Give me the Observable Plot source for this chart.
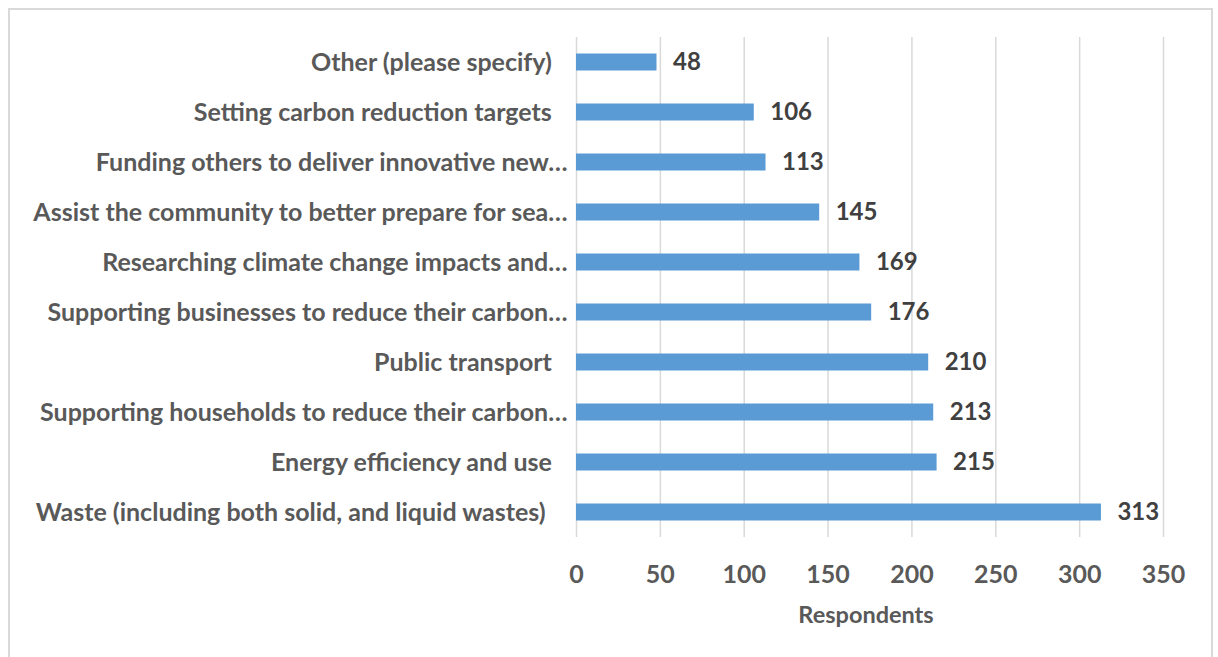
<!DOCTYPE html>
<html><head><meta charset="utf-8">
<script src="https://cdn.jsdelivr.net/npm/d3@7"></script>
<script src="https://cdn.jsdelivr.net/npm/@observablehq/plot@0.6"></script>
<style>
body{margin:0;background:#fff;}
#wrap{position:relative;width:1218px;height:657px;overflow:hidden;}
#box{position:absolute;left:8px;top:8px;width:1205px;height:700px;border:2px solid #d9d9d9;box-sizing:border-box;}
#chart{position:absolute;left:0;top:0;}
svg text{white-space:pre;}
</style></head><body><div id="wrap"><div id="box"></div><div id="chart"></div></div>
<script>
const categories = [
  "Other (please specify)\u2002\u2009",
  "Setting carbon reduction targets\u2002\u2009",
  "Funding others to deliver innovative new…",
  "Assist the community to better prepare for sea…",
  "Researching climate change impacts and…",
  "Supporting businesses to reduce their carbon…",
  "Public transport\u2002\u2009",
  "Supporting households to reduce their carbon…",
  "Energy efficiency and use\u2002\u2009",
  "Waste (including both solid, and liquid wastes)\u2003\u2009"
];
const values = [48, 106, 113, 145, 169, 176, 210, 213, 215, 313];
const xTicks = [0, 50, 100, 150, 200, 250, 300, 350];
const axisLabel = "Respondents";

const data = categories.map((c, i) => ({category: c, value: values[i]}));

const chart = Plot.plot({
  width: 1218, height: 657,
  marginLeft: 576, marginRight: 55, marginTop: 37, marginBottom: 120,
  style: {fontFamily: "Lato, sans-serif", background: "transparent"},
  x: {domain: [0, 350], ticks: xTicks},
  y: {domain: categories, padding: 0},
  marks: [
    Plot.gridX(xTicks, {stroke: "#d9d9d9", strokeOpacity: 1, strokeWidth: 1.5}),
    Plot.barX(data, {x: "value", y: "category", fill: "#5b9bd5", insetTop: 16.5, insetBottom: 16.5}),
    Plot.text(data, {x: "value", y: "category", text: d => String(d.value), textAnchor: "start", dx: 16, fontSize: 24, fontWeight: "bold", fill: "#404040"}),
    Plot.axisX(xTicks, {tickSize: 0, tickPadding: 28, fontSize: 25, fontWeight: "bold", fill: "#595959", label: null}),
    Plot.axisY({tickSize: 0, tickPadding: 9, fontSize: 25, fontWeight: "bold", fill: "#595959", label: null}),
    Plot.text([axisLabel], {frameAnchor: "bottom", dy: 85, dx: -4, text: d => d, fontSize: 23.5, fontWeight: "bold", fill: "#595959"})
  ]
});
document.getElementById("chart").appendChild(chart);
</script></body></html>
